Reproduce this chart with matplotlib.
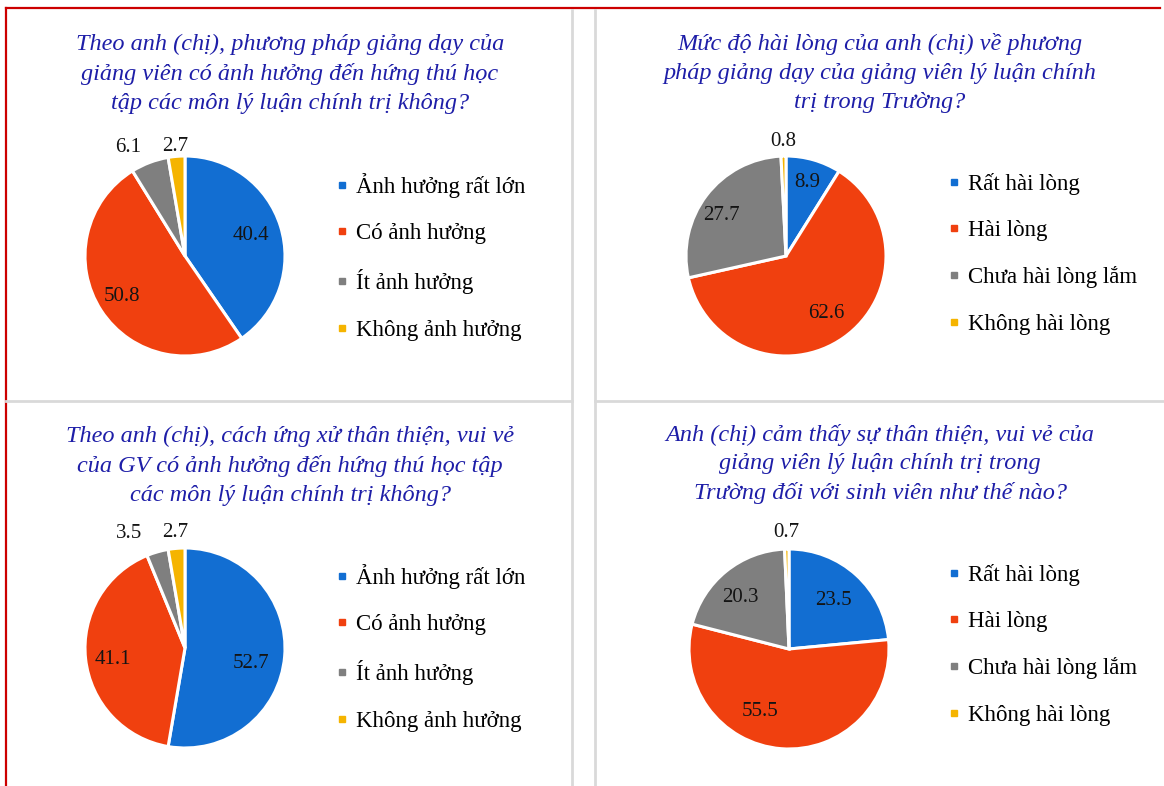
import matplotlib
matplotlib.use("Agg")
import matplotlib.pyplot as plt
from matplotlib.lines import Line2D
import numpy as np

W, H = 1164, 786

# ---------------- data ----------------
titles = [
    "Theo anh (chị), phương pháp giảng dạy của\ngiảng viên có ảnh hưởng đến hứng thú học\ntập các môn lý luận chính trị không?",
    "Mức độ hài lòng của anh (chị) về phương\npháp giảng dạy của giảng viên lý luận chính\ntrị trong Trường?",
    "Theo anh (chị), cách ứng xử thân thiện, vui vẻ\ncủa GV có ảnh hưởng đến hứng thú học tập\ncác môn lý luận chính trị không?",
    "Anh (chị) cảm thấy sự thân thiện, vui vẻ của\ngiảng viên lý luận chính trị trong\nTrường đối với sinh viên như thế nào?",
]
cats_influence = ["Ảnh hưởng rất lớn", "Có ảnh hưởng", "Ít ảnh hưởng", "Không ảnh hưởng"]
cats_satisfaction = ["Rất hài lòng", "Hài lòng", "Chưa hài lòng lắm", "Không hài lòng"]

vals_teaching_influence = [40.4, 50.8, 6.1, 2.7]
vals_teaching_satisfaction = [8.9, 62.6, 27.7, 0.8]
vals_friendly_influence = [52.7, 41.1, 3.5, 2.7]
vals_friendly_feeling = [23.5, 55.5, 20.3, 0.7]

label_texts = [
    ["40.4", "50.8", "6.1", "2.7"],
    ["8.9", "62.6", "27.7", "0.8"],
    ["52.7", "41.1", "3.5", "2.7"],
    ["23.5", "55.5", "20.3", "0.7"],
]

# ---------------- style ----------------
colors = ["#126ED2", "#F0400F", "#7F7F7F", "#F5B400"]
title_color = "#1E1EA8"
serif = ["Liberation Serif", "DejaVu Serif"]

# layout (pixels from top-left)
pie_centers = [(185, 256), (786, 256), (185, 648), (789, 649)]
pie_r = 100
title_centers = [(290, 74), (880, 73), (290, 466), (880, 464)]
legend_anchor = [(335, 173), (947, 173), (335, 564), (947, 564)]
# label placement: (radius factor, angle offset in degrees)
label_place = [
    [(0.69, 0), (0.75, 0), (1.22, 7), (1.10, 0)],
    [(0.76, 0), (0.70, 0), (0.76, 5), (1.15, 0)],
    [(0.68, -8), (0.73, 3), (1.27, 10), (1.16, 0)],
    [(0.66, 0), (0.69, -20), (0.71, 4), (1.17, 0)],
]

fig = plt.figure(figsize=(W / 100, H / 100), dpi=100)
fig.patch.set_facecolor("white")


def fx(x):
    return x / W


def fy(y):
    return 1 - y / H


# frame lines
red = "#CC0000"
grey = "#D9D9D9"
fig.add_artist(Line2D([fx(6), fx(1160)], [fy(8), fy(8)], color=red, lw=1.6))
fig.add_artist(Line2D([fx(6), fx(6)], [fy(8), fy(786)], color=red, lw=1.6))
for xv in (572, 595):
    fig.add_artist(Line2D([fx(xv), fx(xv)], [fy(10), fy(786)], color=grey, lw=2.0))
fig.add_artist(Line2D([fx(6), fx(572)], [fy(401), fy(401)], color=grey, lw=2.0))
fig.add_artist(Line2D([fx(595), fx(1164)], [fy(401), fy(401)], color=grey, lw=2.0))

datasets = [vals_teaching_influence, vals_teaching_satisfaction,
            vals_friendly_influence, vals_friendly_feeling]
cat_sets = [cats_influence, cats_satisfaction, cats_influence, cats_satisfaction]

for i in range(4):
    cx, cy = pie_centers[i]
    ax = fig.add_axes([fx(cx - pie_r), fy(cy + pie_r), 2 * pie_r / W, 2 * pie_r / H])
    wedges, _ = ax.pie(datasets[i], colors=colors, startangle=90, counterclock=False,
                       radius=1.0,
                       wedgeprops=dict(edgecolor="white", linewidth=2.2))
    ax.set_xlim(-1, 1)
    ax.set_ylim(-1, 1)
    ax.set_aspect("equal")
    ax.axis("off")
    for w, txt, (rf, da) in zip(wedges, label_texts[i], label_place[i]):
        ang = np.deg2rad((w.theta1 + w.theta2) / 2 + da)
        ax.text(rf * np.cos(ang), rf * np.sin(ang), txt, ha="center", va="center",
                fontsize=15, family=serif, color="#141414", clip_on=False)

    tx, ty = title_centers[i]
    fig.text(fx(tx), fy(ty), titles[i], ha="center", va="center", fontsize=17.5,
             style="italic", family=serif, color=title_color, linespacing=1.48)

    handles = [Line2D([], [], marker="s", linestyle="None", markersize=5,
                      markerfacecolor=c, markeredgecolor=c) for c in colors]
    lx, ly = legend_anchor[i]
    fig.legend(handles, cat_sets[i], loc="upper left",
               bbox_to_anchor=(fx(lx), fy(ly)), frameon=False,
               prop=dict(family=serif, size=16.5), labelspacing=1.1,
               handlelength=0.6, handletextpad=0.3, borderpad=0, borderaxespad=0)

fig.savefig("out.png", dpi=100, facecolor="white")
